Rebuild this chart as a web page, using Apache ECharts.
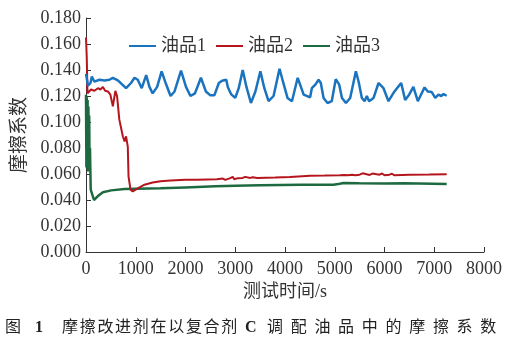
<!DOCTYPE html>
<html><head><meta charset="utf-8">
<script src="https://cdn.jsdelivr.net/npm/echarts@6/dist/echarts.min.js"></script>
<style>html,body{margin:0;padding:0;background:#fff}#c{width:519px;height:349px}</style>
</head><body><div id="c"></div>
<script>
const seriesNames = ['油品1', '油品2', '油品3'];
const xTicks = [0, 1000, 2000, 3000, 4000, 5000, 6000, 7000, 8000];
const yTicks = [0, 0.02, 0.04, 0.06, 0.08, 0.10, 0.12, 0.14, 0.16, 0.18];
const oil1 = [[0,0.137],[40,0.128],[90,0.130],[117,0.135],[170,0.131],[270,0.1325],[370,0.132],[470,0.1325],[540,0.134],[640,0.132],[805,0.126],[905,0.130],[975,0.134],[1040,0.1325],[1120,0.126],[1210,0.136],[1275,0.127],[1340,0.122],[1430,0.127],[1520,0.139],[1610,0.129],[1700,0.120],[1780,0.1235],[1910,0.1395],[2010,0.127],[2100,0.120],[2190,0.122],[2310,0.134],[2410,0.1235],[2500,0.1205],[2580,0.1205],[2670,0.130],[2735,0.1318],[2820,0.1325],[2850,0.127],[2890,0.126],[2915,0.1215],[3000,0.1185],[3070,0.126],[3150,0.140],[3225,0.127],[3315,0.1146],[3405,0.1235],[3505,0.139],[3585,0.126],[3670,0.116],[3770,0.120],[3890,0.141],[3960,0.131],[4050,0.1185],[4140,0.116],[4255,0.134],[4320,0.127],[4375,0.121],[4505,0.119],[4540,0.126],[4610,0.1287],[4675,0.1325],[4720,0.130],[4775,0.1185],[4855,0.1146],[4940,0.116],[5020,0.133],[5090,0.1287],[5145,0.1185],[5225,0.1146],[5310,0.1185],[5380,0.131],[5425,0.139],[5480,0.131],[5545,0.1185],[5600,0.116],[5645,0.120],[5690,0.116],[5780,0.1185],[5880,0.130],[5980,0.126],[6080,0.116],[6200,0.1235],[6335,0.130],[6415,0.117],[6495,0.121],[6580,0.127],[6670,0.116],[6765,0.1235],[6805,0.1266],[6870,0.1235],[6950,0.123],[7020,0.1185],[7085,0.121],[7140,0.120],[7185,0.1215],[7250,0.1202]];
const oil2 = [[0,0.165],[15,0.150],[30,0.122],[50,0.122],[100,0.125],[170,0.124],[240,0.126],[290,0.125],[340,0.127],[385,0.124],[440,0.1235],[490,0.121],[540,0.112],[590,0.124],[625,0.1197],[670,0.1018],[740,0.089],[775,0.085],[805,0.089],[840,0.081],[855,0.058],[895,0.048],[940,0.0466],[1040,0.049],[1175,0.0518],[1340,0.0535],[1500,0.0545],[1700,0.055],[2000,0.0555],[2230,0.0556],[2630,0.056],[2750,0.0565],[2780,0.058],[2800,0.0555],[2900,0.0568],[2950,0.0578],[2980,0.056],[3050,0.0568],[3150,0.057],[3200,0.0578],[3230,0.0563],[3300,0.057],[3350,0.0575],[3440,0.057],[3800,0.0573],[4100,0.0576],[4510,0.0587],[4800,0.0588],[5100,0.059],[5200,0.0592],[5230,0.0605],[5260,0.059],[5350,0.0595],[5380,0.061],[5410,0.059],[5500,0.0595],[5560,0.0605],[5600,0.059],[5700,0.0593],[5760,0.0603],[5800,0.059],[5900,0.0595],[5950,0.0604],[6000,0.059],[6100,0.0595],[6150,0.0602],[6200,0.059],[6500,0.0595],[6900,0.0596],[7250,0.0598]];
const oil3 = [[0,0.121],[8,0.065],[16,0.119],[24,0.07],[32,0.117],[40,0.062],[48,0.112],[56,0.068],[64,0.105],[72,0.065],[80,0.08],[95,0.048],[160,0.040],[240,0.043],[340,0.046],[505,0.0474],[775,0.0485],[1000,0.0487],[1500,0.049],[2000,0.0497],[2600,0.0505],[3000,0.051],[3500,0.0513],[4310,0.0518],[4975,0.0518],[5100,0.0525],[5175,0.053],[5500,0.0528],[6000,0.0526],[6400,0.0528],[7250,0.0524]];
const xName = '测试时间/s';
const yName = '摩擦系数';
const captionA = '摩擦改进剂在以复合剂';
const captionB = '调配油品中的摩擦系数';

const FONT = "'Times New Roman', 'Liberation Serif', 'Noto Sans CJK SC', serif";
const colors = ['#1a73bf', '#b5161e', '#1e6a40'];
const chart = echarts.init(document.getElementById('c'), null, {renderer: 'canvas'});

const cap = [];
const capStyle = (t, x, bold) => ({type: 'text', left: x, top: 320, style: {text: t, fontSize: 16, fontFamily: FONT, fontWeight: bold ? 'bold' : 'normal', fill: '#222'}});
cap.push(capStyle('图', 5, false));
cap.push(capStyle('1', 35, true));
captionA.split('').forEach((ch, i) => cap.push(capStyle(ch, 62 + i * 17.7, false)));
cap.push(capStyle('C', 245, true));
captionB.split('').forEach((ch, i) => cap.push(capStyle(ch, 267 + i * 23.7, false)));

chart.setOption({
  animation: false,
  color: colors,
  textStyle: {fontFamily: FONT},
  grid: {left: 86, right: 35, top: 18, bottom: 97, containLabel: false},
  legend: {
    data: seriesNames, left: 124, top: 32, itemWidth: 27, itemHeight: 2, itemGap: 10, icon: 'rect',
    textStyle: {fontSize: 18, fontFamily: FONT, color: '#333'}
  },
  xAxis: {
    type: 'value', min: xTicks[0], max: xTicks[xTicks.length - 1], interval: 1000,
    name: xName, nameLocation: 'middle', nameGap: 28,
    nameTextStyle: {fontSize: 18, fontFamily: FONT, color: '#333'},
    axisLine: {lineStyle: {color: '#333', width: 1}},
    axisTick: {inside: true, length: 5, lineStyle: {color: '#333'}},
    axisLabel: {fontSize: 18, fontFamily: FONT, color: '#333', margin: 8, formatter: v => String(v)},
    splitLine: {show: false}
  },
  yAxis: {
    type: 'value', min: yTicks[0], max: yTicks[yTicks.length - 1], interval: 0.02,
    name: yName, nameLocation: 'middle', nameGap: 46, nameRotate: 90,
    nameTextStyle: {fontSize: 19, fontFamily: FONT, color: '#333'},
    axisLine: {show: true, lineStyle: {color: '#333', width: 1}},
    axisTick: {show: true, inside: true, length: 5, lineStyle: {color: '#333'}},
    axisLabel: {fontSize: 18, fontFamily: FONT, color: '#333', margin: 5, formatter: v => v.toFixed(3)},
    splitLine: {show: false}
  },
  series: [
    {name: seriesNames[0], type: 'line', data: oil1, symbol: 'none', lineStyle: {width: 2.5}, z: 3},
    {name: seriesNames[1], type: 'line', data: oil2, symbol: 'none', lineStyle: {width: 2}, z: 2},
    {name: seriesNames[2], type: 'line', data: oil3, symbol: 'none', lineStyle: {width: 2.5}, z: 1}
  ],
  graphic: cap
});
</script></body></html>
